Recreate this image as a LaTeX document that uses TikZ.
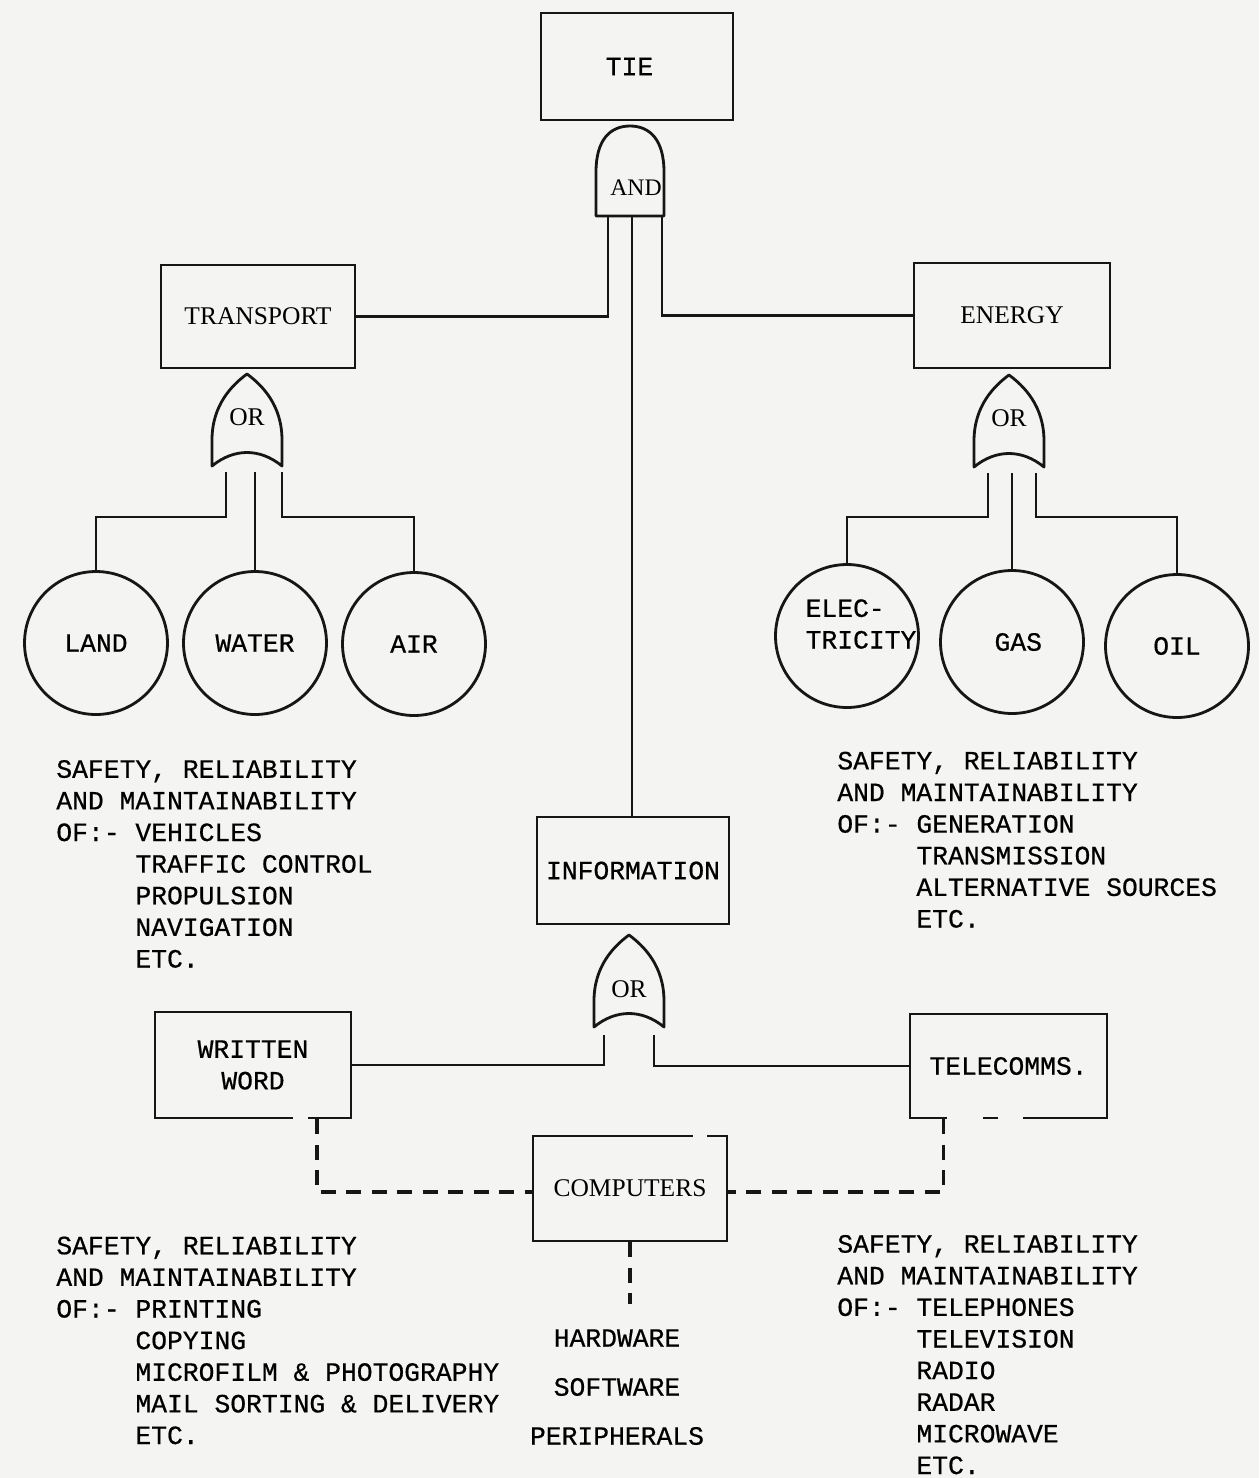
\documentclass[tikz,border=0pt]{standalone}
\usepackage{fontspec}
\setmainfont{Liberation Serif}
\newfontfamily\twfont[FakeBold=0.6]{Liberation Mono}
\definecolor{paper}{RGB}{244,244,242}
\definecolor{ink}{RGB}{22,22,22}
\newcommand\orgatepath[2]{(#1-35,#2+92) -- (#1-35,#2+66) .. controls (#1-35,#2+31) and (#1-15,#2+11) .. (#1,#2) .. controls (#1+15,#2+11) and (#1+35,#2+31) .. (#1+35,#2+66) -- (#1+35,#2+92) .. controls (#1+13,#2+74) and (#1-13,#2+74) .. cycle}
\tikzset{
  mono/.style={font=\twfont\fontsize{15pt}{18pt}\selectfont},
  serif/.style={font=\fontsize{14.5pt}{17pt}\selectfont},
  box/.style={draw=ink, line width=1.6pt, rectangle, inner sep=0pt, align=center},
  ball/.style={draw=ink, line width=1.6pt, circle, inner sep=0pt, minimum size=2.86cm, mono, align=left},
  gate/.style={draw=ink, line width=1.6pt, line join=round},
  wire/.style={draw=ink, line width=1.6pt},
  dwire/.style={draw=ink, line width=1.8pt, dash pattern=on 8.5pt off 6pt},
  txt/.style={mono, align=left, anchor=base west, inner sep=0pt},
}
\begin{document}
\begin{tikzpicture}[x=0.02cm,y=-0.02cm]
\fill[paper] (0,0) rectangle (1259,1478);
\useasboundingbox (0,0) rectangle (1259,1478);

% boxes
\node[box, mono, minimum width=3.84cm, minimum height=2.14cm] (tie) at (637,66.5) {TIE\hspace*{0.3cm}};
\node[box, serif, minimum width=3.88cm, minimum height=2.06cm] (transport) at (258,316.5) {TRANSPORT};
\node[box, serif, minimum width=3.92cm, minimum height=2.10cm] (energy) at (1012,315.5) {ENERGY};
\node[box, mono, minimum width=3.84cm, minimum height=2.14cm] (information) at (633,870.5) {INFORMATION};
\node[box, mono, minimum width=3.92cm, minimum height=2.12cm] (written) at (253,1065) {WRITTEN\\WORD};
\node[box, mono, minimum width=3.94cm, minimum height=2.08cm] (telecomms) at (1008.5,1066) {TELECOMMS.};
\node[box, serif, minimum width=3.88cm, minimum height=2.10cm] (computers) at (630,1188.5) {COMPUTERS};

% small print gaps in box edges
\fill[paper] (293,1112) rectangle (308,1120);
\fill[paper] (947,1114) rectangle (983,1122);
\fill[paper] (998,1114) rectangle (1023,1122);
\fill[paper] (693,1132) rectangle (707,1140);

% AND gate
\draw[gate] (596,216) -- (596,172) .. controls (596,140) and (610,126) .. (630,126) .. controls (650,126) and (664,140) .. (664,172) -- (664,216) -- cycle;
\node[font=\fontsize{13.5pt}{15pt}\selectfont, inner sep=0pt] (andlbl) at (636,188) {AND};
\coordinate (andL) at (608,216);
\coordinate (andM) at (632,216);
\coordinate (andR) at (662,216);

% OR gates
\draw[gate] \orgatepath{247}{374};
\node[serif, inner sep=0pt] (orTlbl) at (247,417) {OR};
\draw[gate] \orgatepath{1009}{375};
\node[serif, inner sep=0pt] (orElbl) at (1009,418) {OR};
\draw[gate] \orgatepath{629}{935};
\node[serif, inner sep=0pt] (orIlbl) at (629,989) {OR};
\coordinate (orTl) at (226,472);
\coordinate (orTm) at (255,472);
\coordinate (orTr) at (282,472);
\coordinate (orEl) at (988,473);
\coordinate (orEm) at (1012,473);
\coordinate (orEr) at (1036,473);
\coordinate (orIl) at (604,1035);
\coordinate (orIr) at (654,1035);

% circles
\node[ball] (land) at (96,643) {LAND};
\node[ball] (water) at (255,643) {WATER};
\node[ball] (air) at (414,644) {AIR};
\node[ball] (elec) at (847,636) {};
\node[mono, align=left, inner sep=0pt] (eleclbl) at (861,624) {ELEC-\\TRICITY};
\node[ball] (gas) at (1012,642) {\hspace*{0.25cm}GAS};
\node[ball] (oil) at (1177,646) {OIL};

% connectors
\draw[wire] (andL) |- (transport.east);
\draw[wire] (andR) |- (energy.west);
\draw[wire] (andM) -- (andM |- information.north);
\draw[wire] (orTl) -- ++(0,45) -| (land.north);
\draw[wire] (orTm) -- (water.north);
\draw[wire] (orTr) -- ++(0,45) -| (air.north);
\draw[wire] (orEl) -- ++(0,44) -| (elec.north);
\draw[wire] (orEm) -- (gas.north);
\draw[wire] (orEr) -- ++(0,44) -| (oil.north);
\draw[wire] (orIl) |- (written.east);
\draw[wire] (orIr) |- (telecomms.west);
\draw[dwire] ([xshift=1.28cm]written.south) |- ([yshift=-0.07cm]computers.west);
\draw[dwire] ([xshift=-1.3cm]telecomms.south) |- ([yshift=-0.07cm]computers.east);
\draw[dwire] (computers.south) -- ++(0,62);

% texts (anchor = baseline of last line)
\node[txt] (tTransport) at (56,967.5) {SAFETY, RELIABILITY\\AND MAINTAINABILITY\\OF:-\ VEHICLES\\\hphantom{OF:-\ }TRAFFIC CONTROL\\\hphantom{OF:-\ }PROPULSION\\\hphantom{OF:-\ }NAVIGATION\\\hphantom{OF:-\ }ETC.};
\node[txt] (tEnergy) at (837,927.5) {SAFETY, RELIABILITY\\AND MAINTAINABILITY\\OF:-\ GENERATION\\\hphantom{OF:-\ }TRANSMISSION\\\hphantom{OF:-\ }ALTERNATIVE SOURCES\\\hphantom{OF:-\ }ETC.};
\node[txt] (tWritten) at (56,1444) {SAFETY, RELIABILITY\\AND MAINTAINABILITY\\OF:-\ PRINTING\\\hphantom{OF:-\ }COPYING\\\hphantom{OF:-\ }MICROFILM \& PHOTOGRAPHY\\\hphantom{OF:-\ }MAIL SORTING \& DELIVERY\\\hphantom{OF:-\ }ETC.};
\node[txt] (tTele) at (837,1474) {SAFETY, RELIABILITY\\AND MAINTAINABILITY\\OF:-\ TELEPHONES\\\hphantom{OF:-\ }TELEVISION\\\hphantom{OF:-\ }RADIO\\\hphantom{OF:-\ }RADAR\\\hphantom{OF:-\ }MICROWAVE\\\hphantom{OF:-\ }ETC.};
\node[mono, inner sep=0pt] (hw) at (617,1338) {HARDWARE};
\node[mono, inner sep=0pt] (sw) at (617,1387) {SOFTWARE};
\node[mono, inner sep=0pt] (pe) at (617,1436) {PERIPHERALS};
\end{tikzpicture}
\end{document}
